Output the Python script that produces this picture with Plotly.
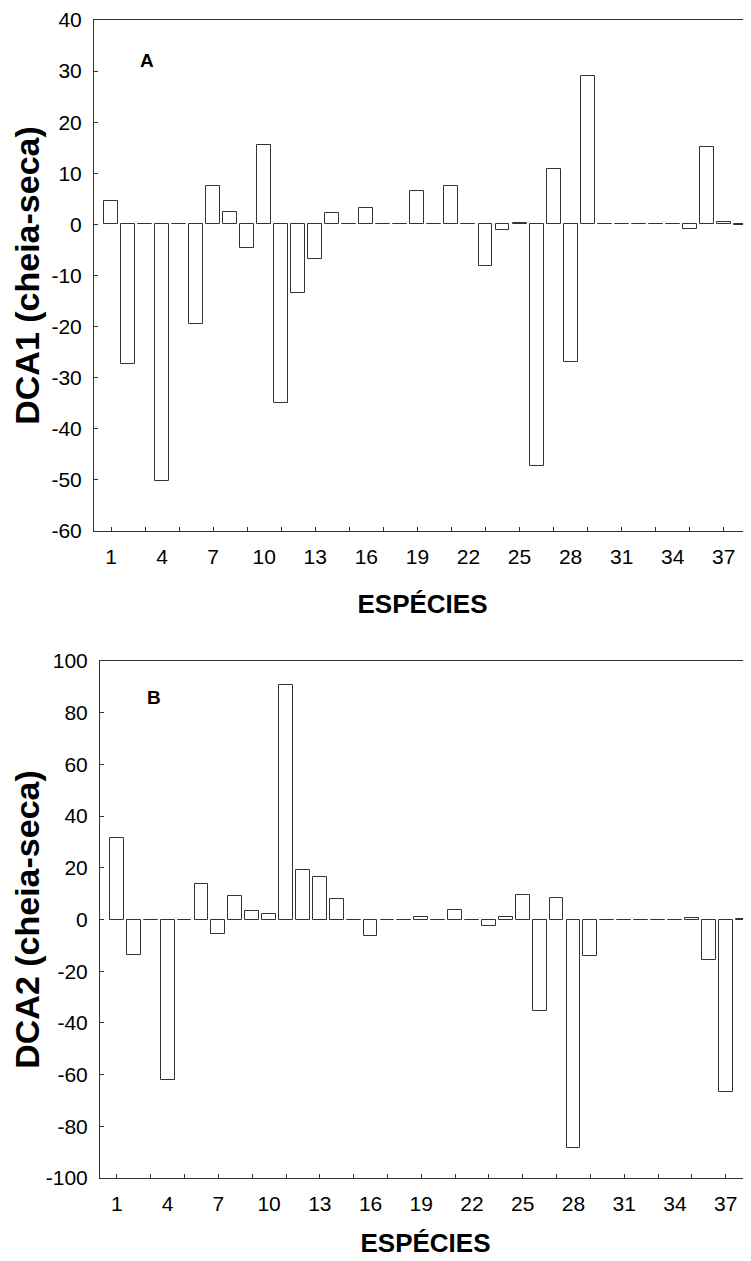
import plotly.graph_objects as go

especies = list(range(1, 39))

dca1 = [4.5, -27.3, 0, -50.3, 0, -19.4, 7.6, 2.5, -4.6, 15.6,
        -35.0, -13.5, -6.8, 2.3, 0, 3.3, 0, 0, 6.6, 0,
        7.6, 0, -8.1, -1.0, 0.2, -47.2, 10.8, -26.9, 29.0, 0,
        0, 0, 0, 0, -0.9, 15.2, 0.5, -0.2]

dca2 = [31.5, -13.9, 0, -62.0, 0, 13.9, -5.5, 9.1, 3.2, 2.3,
        90.6, 19.3, 16.5, 8.1, 0, -6.4, 0, 0, 1.0, 0,
        3.6, 0, -2.4, 0.8, 9.5, -35.3, 8.2, -88.5, -14.0, 0,
        0, 0, 0, 0, 0.4, -15.8, -66.9, 0.2]

label_ticks = list(range(1, 38, 3))
minor_ticks = list(range(1, 38, 2))
y1_ticks = list(range(-60, 41, 10))
y2_ticks = list(range(-100, 101, 20))

FONT = "Liberation Sans Narrow, Arial Narrow, Liberation Sans, Arial, sans-serif"

fig = go.Figure()
fig.add_trace(go.Bar(x=especies, y=dca1, width=0.82, xaxis="x", yaxis="y",
                     marker=dict(color="white", line=dict(color="#333333", width=1)),
                     showlegend=False))
fig.add_trace(go.Bar(x=especies, y=dca2, width=0.82, xaxis="x2", yaxis="y2",
                     marker=dict(color="white", line=dict(color="#333333", width=1)),
                     showlegend=False))

# page has an 8px body margin
OFF = 8
W, H = 751 - OFF, 1261 - OFF
ml, mt, mb, mr = 94 - OFF, 20 - OFF, 83, 0
ph = H - mt - mb
pw = W - ml - mr

def fy(px):
    return 1 - (px - 20) / ph

def fx(px):
    return (px - 94) / pw

def xaxis_cfg(standoff):
    return dict(tickmode="array", tickvals=label_ticks,
                ticktext=[str(v) for v in label_ticks], ticks="",
                showline=True, linecolor="#333333", linewidth=1, mirror=True,
                showgrid=False, zeroline=False, automargin=False,
                tickfont=dict(family=FONT, size=21, color="black"),
                ticklabelstandoff=7,
                minor=dict(tickmode="array", tickvals=minor_ticks, ticks="inside",
                           ticklen=4, tickcolor="#333333", tickwidth=1, showgrid=False),
                title=dict(text="<b>ESPÉCIES</b>",
                           font=dict(family=FONT, size=26, color="black"),
                           standoff=standoff))

ycommon = dict(showline=True, linecolor="#333333", linewidth=1, mirror=False,
               ticks="inside", ticklen=4, tickcolor="#333333",
               showgrid=False, zeroline=False, tickmode="array", automargin=False,
               tickfont=dict(family=FONT, size=21, color="black"),
               ticklabelstandoff=7)

fig.update_layout(
    width=W, height=H,
    margin=dict(l=ml, r=mr, t=mt, b=mb, pad=0),
    paper_bgcolor="white", plot_bgcolor="white",
    bargap=0,
    xaxis=dict(domain=[0, 1], anchor="y", range=[0, 38.6], **xaxis_cfg(27)),
    yaxis=dict(domain=[fy(531), 1], anchor="x", range=[-60, 40],
               tickvals=y1_ticks, ticktext=[str(v) for v in y1_ticks],
               title=dict(text="<b>DCA1 (cheia-seca)</b>",
                          font=dict(family=FONT, size=34, color="black"), standoff=4),
               **ycommon),
    xaxis2=dict(domain=[fx(100), 1], anchor="y2", range=[0, 38.5], **xaxis_cfg(19)),
    yaxis2=dict(domain=[fy(1178), fy(661)], anchor="x2", range=[-100, 100],
                tickvals=y2_ticks, ticktext=[str(v) for v in y2_ticks],
                title=dict(text="<b>DCA2 (cheia-seca)</b>",
                           font=dict(family=FONT, size=34, color="black"), standoff=4),
                **ycommon),
    annotations=[
        dict(text="<b>A</b>", xref="paper", yref="paper",
             x=fx(147), y=fy(61), xanchor="center", yanchor="middle", showarrow=False,
             font=dict(family=FONT, size=19, color="black")),
        dict(text="<b>B</b>", xref="paper", yref="paper",
             x=fx(154), y=fy(697), xanchor="center", yanchor="middle", showarrow=False,
             font=dict(family=FONT, size=19, color="black")),
    ],
)

fig.write_html("out.html")
